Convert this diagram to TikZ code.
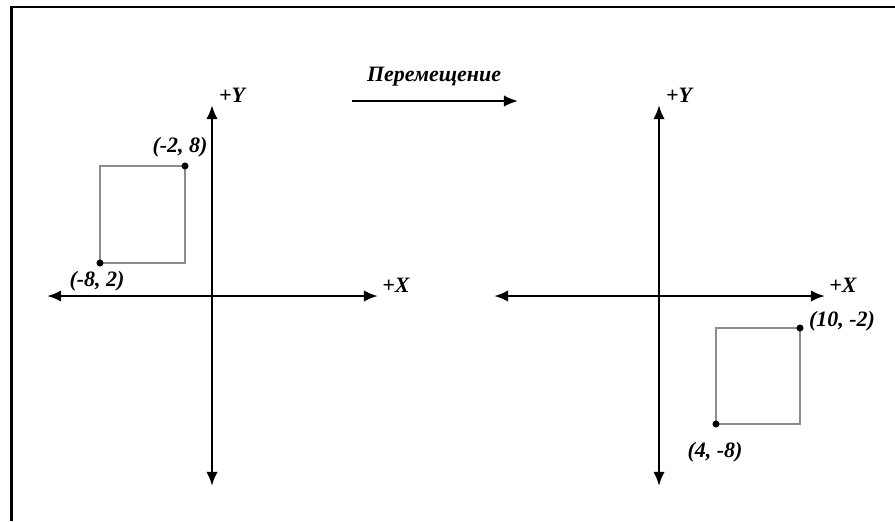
\documentclass[tikz,border=0pt]{standalone}
\usepackage{fontspec}
\setmainfont{Liberation Serif}
\usetikzlibrary{arrows.meta}

\begin{document}
\begin{tikzpicture}[x=0.02cm,y=-0.02cm,>={Latex[length=8pt,width=6.5pt]},
  lbl/.style={font=\bfseries\itshape\fontsize{12.5}{14}\selectfont,inner sep=1pt},
  axis/.style={<->,line width=1.4pt},
  sq/.style={draw=black!45,line width=0.8pt},
  dot/.style={circle,fill=black,inner sep=0pt,minimum size=4pt}]
  \useasboundingbox (0,0) rectangle (895,521);
  % Frame
  \draw[line width=1.5pt] (11.5,521) -- (11.5,7) -- (895,7);

  % Axes
  \foreach \n/\ox in {L/212, R/659} {
    \coordinate (o\n) at (\ox,296);
    \coordinate (xl\n) at (\ox-165,296);
    \coordinate (xr\n) at (\ox+166,296);
    \coordinate (yt\n) at (\ox,105);
    \coordinate (yb\n) at (\ox,486);
    \draw[axis] (xl\n) -- (xr\n);
    \draw[axis] (yb\n) -- (yt\n);
    \node[lbl] (py\n) at (\ox+20,95) {+Y};
    \node[lbl] (px\n) at (\ox+184,285) {+X};
  }

  % Squares
  \draw[sq] (100,166) rectangle (185,263);
  \draw[sq] (716,328) rectangle (800,424);
  \node[dot] (aL) at (185,166) {};
  \node[dot] (bL) at (100,263) {};
  \node[dot] (aR) at (800,328) {};
  \node[dot] (bR) at (716,424) {};
  \node[lbl] (laL) at (180,147) {(-2, 8)};
  \node[lbl] (lbL) at (97,281) {(-8, 2)};
  \node[lbl] (laR) at (842,321) {(10, -2)};
  \node[lbl] (lbR) at (715,452) {(4, -8)};

  % Translation arrow
  \node[lbl] (move) at (434,77) {Перемещение};
  \coordinate (ms) at (352,101);
  \coordinate (me) at (518,101);
  \draw[->,line width=1.1pt] (ms) -- (me);
\end{tikzpicture}
\end{document}
